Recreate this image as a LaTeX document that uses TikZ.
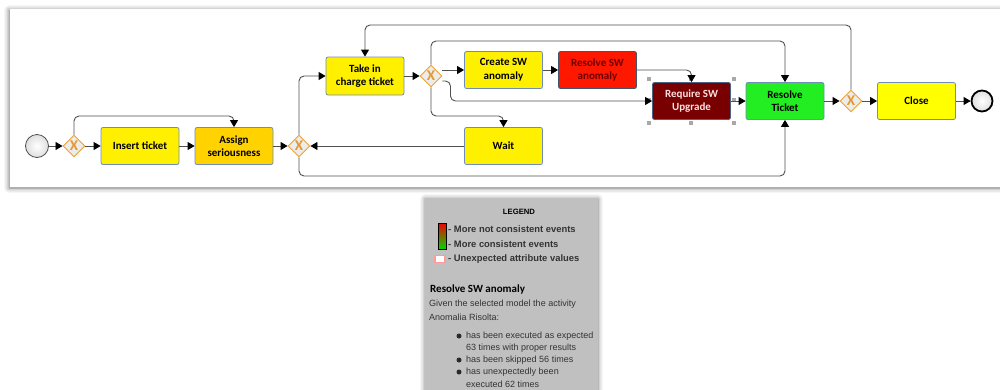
\documentclass[tikz,border=0pt]{standalone}
\usepackage{fontspec}
\setmainfont{Carlito}
\newfontfamily\arialf{Liberation Sans}
\usetikzlibrary{shapes.geometric,arrows.meta,shadows.blur,calc}

\definecolor{taskborder}{HTML}{6F8DB8}
\definecolor{flowgray}{HTML}{505050}
\definecolor{gateorange}{HTML}{F0A030}
\definecolor{gatefill}{HTML}{ECECEC}
\definecolor{yel}{HTML}{FFF000}
\definecolor{yelbright}{HTML}{FFFF00}
\definecolor{gold}{HTML}{FFD200}
\definecolor{redact}{HTML}{FF1800}
\definecolor{darkred}{HTML}{780000}
\definecolor{greenact}{HTML}{22EE22}
\definecolor{legendgray}{HTML}{C0C0C0}
\definecolor{legtext}{HTML}{333333}
\definecolor{handlegray}{HTML}{A8A8A8}
\definecolor{pinkedge}{HTML}{FF9A9A}

\tikzset{
  task/.style={draw=taskborder, line width=0.8pt, rounded corners=2pt,
    minimum width=78pt, minimum height=37pt, inner sep=1pt, align=center,
    font=\bfseries\fontsize{11}{13.5}\selectfont},
  gate/.style={diamond, draw=gateorange, line width=0.9pt, fill=gatefill,
    minimum width=22pt, minimum height=22pt, inner sep=0pt, text=gateorange!95!black,
    font=\bfseries\fontsize{15}{15}\selectfont},
  flow/.style={draw=flowgray, line width=0.9pt, rounded corners=5pt,
    -{Triangle[length=7pt,width=8pt,color=black]}},
  handle/.style={fill=handlegray, minimum size=4pt, inner sep=0pt},
  legitem/.style={anchor=west, inner sep=0pt, text=legtext,
    font=\arialf\bfseries\fontsize{9.4}{11}\selectfont},
  legbody/.style={anchor=west, inner sep=0pt, text=legtext,
    font=\arialf\fontsize{9}{12}\selectfont},
  bulletdot/.style={circle, fill=legtext!80!black, minimum size=5pt, inner sep=0pt}
}

\begin{document}
\begin{tikzpicture}[x=1pt,y=-1pt]
\useasboundingbox (0,0) rectangle (1000,389);

% diagram canvas with its shadow
\path[fill=white, blur shadow={shadow xshift=-1pt, shadow yshift=-1pt,
  shadow blur radius=5pt, shadow opacity=55}] (10,9) rectangle (1012,187);

% events and gateways
\node[circle, draw=flowgray, line width=0.8pt, inner color=white, outer color=gray!25,
  minimum size=23pt, inner sep=0pt] (start) at (37,146) {};
\node[gate] (gw1) at (74,146) {X};
\node[gate] (gw2) at (299,146) {X};
\node[gate] (gw3) at (431,76) {X};
\node[gate] (gw4) at (851,101) {X};
\node[circle, draw=black, line width=1.8pt, inner color=white, outer color=gray!25,
  minimum size=21pt, inner sep=0pt] (end) at (982,101) {};

% selection handles of the highlighted activity
\foreach \hx/\hy [count=\i] in {649/79,691/79,734/79,649/100,734/100,649/123,691/123,734/123}
  \node[handle] (h\i) at (\hx,\hy) {};

% activities
\node[task, fill=yel] (ins) at (140,146) {Insert ticket};
\node[task, fill=gold] (asg) at (234,146) {Assign\\seriousness};
\node[task, fill=yel, minimum height=38pt] (take) at (365,76) {Take in\\charge ticket};
\node[task, fill=yel] (create) at (503.5,70) {Create SW\\anomaly};
\node[task, fill=redact, draw=taskborder!60!black, text=darkred!90!black] (rsw) at (597.5,70) {Resolve SW\\anomaly};
\node[task, fill=darkred, draw=taskborder!70!black, text=white!88!red] (req) at (691.5,101) {Require SW\\Upgrade};
\node[task, fill=greenact] (rtk) at (785,101) {Resolve\\Ticket};
\node[task, fill=yelbright] (close) at (916.5,101) {Close};
\node[task, fill=yel] (wait) at (503.5,146) {Wait};

% routing lanes
\coordinate (lanetop) at (0,25);
\coordinate (laneupper) at (0,41);
\coordinate (lanemid) at (0,116);
\coordinate (lanebottom) at (0,176);

% sequence flows
\draw[flow] (start) -- (gw1);
\draw[flow] (gw1) -- (ins);
\draw[flow] (gw1.north) |- (asg.north |- lanemid) -- (asg.north);
\draw[flow] (ins) -- (asg);
\draw[flow] (asg) -- (gw2);
\draw[flow] (gw2.north) |- (take.west);
\draw[flow] (gw2.south) |- (rtk.south |- lanebottom) -- (rtk.south);
\draw[flow] (wait) -- (gw2);
\draw[flow] (take) -- (gw3);
\draw[flow] (gw3.east |- create.west) -- (create.west);
\draw[flow] (create) -- (rsw);
\draw[flow] (rsw.east) -| (req.north);
\draw[flow] (gw3.north) |- (rtk.north |- laneupper) -- (rtk.north);
\draw[flow] ([yshift=-5pt]gw3.east) -- ++(8,0) |- (req.west);
\draw[flow] (gw3.south) |- (wait.north |- lanemid) -- (wait.north);
\draw[flow] (req) -- (rtk);
\draw[flow] (rtk) -- (gw4);
\draw[flow] (gw4) -- (close);
\draw[flow] (gw4.north) |- (take.north |- lanetop) -- (take.north);
\draw[flow] (close) -- (end);

% legend panel
\path[fill=legendgray, blur shadow={shadow xshift=0pt, shadow yshift=-1pt,
  shadow blur radius=5pt, shadow opacity=55}] (425,198) rectangle (598,395);

\node[anchor=center, inner sep=0pt, text=black,
  font=\arialf\bfseries\fontsize{7.7}{9}\selectfont] (legtitle) at (519,212) {LEGEND};
\shade[top color=red!95!black, middle color=red!45!green!70!black, bottom color=green!85!black]
  (438,223) rectangle (446,249);
\draw[black, line width=0.8pt] (438,223) rectangle (446,249);
\node[legitem] (legnot) at (448,229) {- More not consistent events};
\node[legitem] (legcons) at (448,244) {- More consistent events};
\node[draw=pinkedge, fill=white, line width=1.5pt, minimum width=10pt,
  minimum height=7pt, inner sep=0pt] (legpink) at (440,259) {};
\node[legitem] (legattr) at (448,259) {- Unexpected attribute values};

\node[anchor=west, inner sep=0pt, text=black,
  font=\bfseries\fontsize{11}{13}\selectfont] (acttitle) at (430,289) {Resolve SW anomaly};
\node[legbody] (desc1) at (429,304) {Given the selected model the activity};
\node[legbody] (desc2) at (429,317) {Anomalia Risolta:};

\node[bulletdot] (b1) at (459,336) {};
\node[legbody] (l1) at (466,336) {has been executed as expected};
\node[legbody] (l2) at (466,348) {63 times with proper results};
\node[bulletdot] (b2) at (459,360) {};
\node[legbody] (l3) at (466,360) {has been skipped 56 times};
\node[bulletdot] (b3) at (459,372) {};
\node[legbody] (l4) at (466,372) {has unexpectedly been};
\node[legbody] (l5) at (466,384) {executed 62 times};
\end{tikzpicture}
\end{document}
